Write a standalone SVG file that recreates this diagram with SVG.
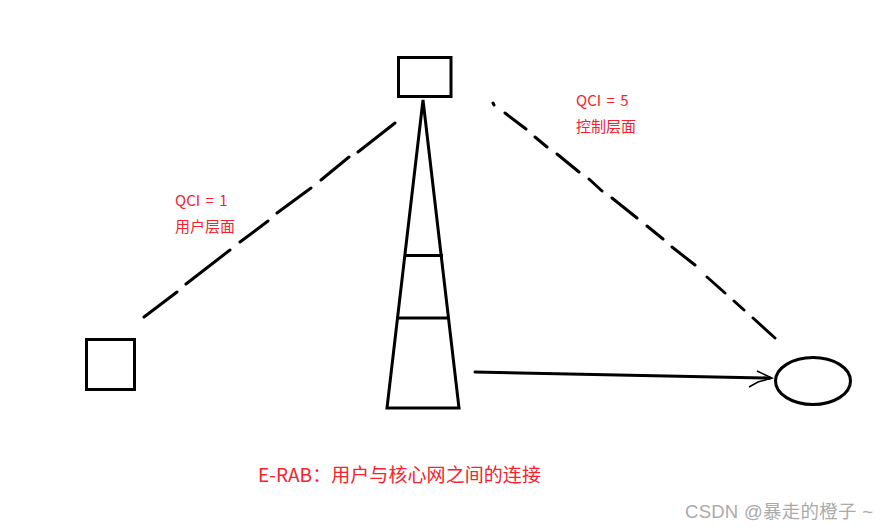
<svg xmlns="http://www.w3.org/2000/svg" width="888" height="530" viewBox="0 0 888 530">
<style>
.s{fill:none;stroke:#000;stroke-width:3}
.d{fill:none;stroke:#000;stroke-width:3;stroke-linecap:round}
.t{font-family:"Noto Sans CJK SC","Noto Sans",sans-serif;fill:#f5222d}
.q{font-size:15px;word-spacing:2px}
.w{font-family:"Liberation Sans","Noto Sans CJK SC",sans-serif;fill:#aaa;font-size:18.500px}
</style>
<rect width="888" height="530" fill="#fff"/>
<g id="base-station-antenna"><rect class="s" x="398.500" y="57.500" width="52.500" height="39"/></g>
<g id="tower">
<path class="s" d="M423 100L387 408H459Z"/>
<path class="s" d="M404 255.500H443M396 318H449"/>
</g>
<g id="user-device"><rect class="s" x="86.500" y="339.500" width="48" height="50"/></g>
<g id="core-network"><ellipse class="s" cx="813" cy="381" rx="37.500" ry="23.500"/></g>
<g id="connectors">
<path class="d" d="M395 123L358 152M349 157L321 180M311 188L277 213M268 221L240 242M230 250L186 284M177 292L144 317"/>
<path class="d" d="M493 103L494 105M505 113L526 129M535 137L547 147M557 154L579 172M589 179L602 191M612 198L637 218M647 226L663 239M672 247L695 265M707 277L725 293M734 301L744 310M753 318L775 338"/>
<path class="d" d="M475 372L770 378"/>
<path class="s" style="stroke-width:1.500" d="M757 371L772 378L758 382L749 387"/>
</g>
<g id="labels">
<text class="t q" x="576" y="106">QCI = 5</text>
<text class="t" x="576" y="132" font-size="15">控制层面</text>
<text class="t q" x="175" y="206">QCI = 1</text>
<text class="t" x="175" y="232" font-size="15">用户层面</text>
<text class="t" x="258" y="482" font-size="19" letter-spacing=".07">E-RAB：用户与核心网之间的连接</text>
<text class="w" x="685" y="518" textLength="188">CSDN @暴走的橙子 ~</text>
</g>
</svg>
